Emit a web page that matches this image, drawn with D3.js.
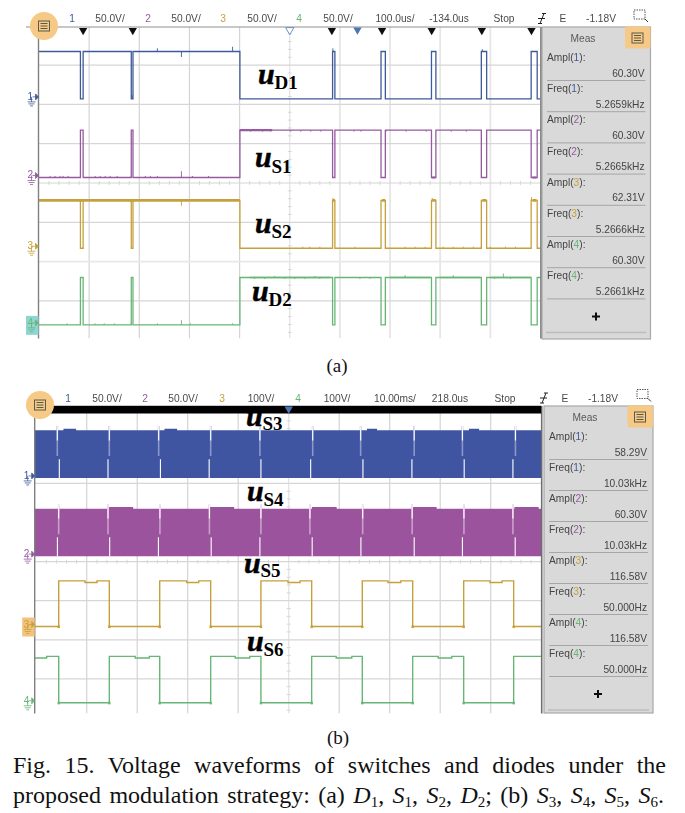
<!DOCTYPE html>
<html><head><meta charset="utf-8">
<script src="https://cdn.jsdelivr.net/npm/d3@7"></script>
<style>html,body{margin:0;padding:0;background:#fff}svg{display:block}</style>
</head><body><svg id="c" width="685" height="813"></svg>
<script>
// ---------- data: panel (a), time in microseconds, level in volts ----------
const edgesA=[82.6,88,184,187.4,400.6,585.4,590,682,690.6,782.6,791.4,882,892.6,981.4,993.4];
const startHighA=[true,false,true,false];
const amplA=[60.3,60.3,61,60.3];
const spikesA1=[[186,5],[236,4],[284,-7],[386,6],[586,4],[884,3]];
const spikesA2=[[82.6,3],[184,2],[22,2],[32,2],[42,2],[48,2],[58,2],[112,2],[122,2],[132,2],[142,2],[156,2],[212,2],[222,2],[236,2],[284,8],[306,2],[338,2],[422,-2],[446,-2],[462,-2],[502,-2],[522,-2],[542,-2],[562,-2],[628,-2],[642,-2],[692,-2],[732,-2],[772,-2],[822,-2],[852,-2]];
const spikesA3=[[284,-7],[586,3],[784,3],[882,3],[982,4],[82.6,-3],[184,-3],[526,2],[540,2],[560,2],[630,2],[730,2],[750,2],[770,2],[806,2],[826,2],[846,2],[866,2],[900,2],[930,2],[950,2]];
const spikesA4=[[82.6,5],[184,3],[284,6],[56,2],[112,2],[130,2],[150,2],[236,2],[302,2],[386,2],[430,-2],[450,-2],[470,2],[490,-2],[510,-2],[530,-2],[550,2],[560,-2],[640,-2],[660,-2],[730,3],[826,3],[926,5],[908,-2],[940,-2]];
const thickA=[[],[[400.6,465,60.3],[784,790,0],[984,992,0]],[[0,400.6,61],[586,590,61],[684,690,61],[784,791,61],[884,892,61],[984,992,61]],[[420,580,60.3],[700,780,60.3],[800,880,60.3],[900,980,60.3]]];
// ---------- data: panel (b), time in milliseconds, level in volts ----------
const band1Env=[[-0.3,61],[5.4,63],[7.9,61],[25.4,63],[27.9,61],[65.5,63],[67.5,61],[85.7,63],[87.7,61],[100,61]];
const band2Env=[[-0.3,60.7],[14.4,62.7],[19.2,60.7],[34.4,62.7],[39.2,60.7],[54.6,62.7],[59.5,60.7],[74.6,62.7],[79.3,60.7],[94.7,62.7],[99.5,60.7],[100,60.7]];
const band1GapsUp=[4.18,14.48,24.25,34.55,44.3,54.75,64.25,74.85,84.4,94.9];
const band1GapsLow=[4.58,14.22,24.6,34.25,44.5,54.35,64.7,74.4,84.75,94.4];
const band2GapsUp=[4.45,14.22,24.5,34.3,44.5,54.2,64.65,74.45,84.7,94.4];
const band2GapsLow=[4.2,14.55,24.2,34.65,44.3,54.65,64.3,74.85,84.4,94.85];
const edgesB=[4.46,14.48,24.46,34.55,44.5,54.55,64.57,74.55,84.65,94.55];
const dipsB3=[[9.66,12.04],[29.8,32.18],[49.86,52.24],[69.66,72.18],[89.86,92.24]];
const dipsB4=[[-0.3,2.08],[19.6,22.4],[39.4,42.3],[59.4,62.5],[79.6,82.3]];
const amplB=[116.58,118.5];
const dipVolts=4;
// ---------- shared channel constants ----------
const chanColors=["#3d5a9a","#965aa0","#c6a03c","#68b676"];
const bandColors=["#3f55a2","#9b539d"];
const bandGapTint=["#8a98cc","#c9a0cb"];
const groundDiv=[1.86,3.86,5.66,7.61];
const voltsA=[50,50,50,50], voltsB=[50,50,100,100];
const headerA=["1","50.0V/","2","50.0V/","3","50.0V/","4","50.0V/","100.0us/","-134.0us","Stop","E","-1.18V"];
const headerB=["1","50.0V/","2","50.0V/","3","100V/","4","100V/","10.00ms/","218.0us","Stop","E","-1.18V"];
const headerColA=[0,null,1,null,2,null,3,null,null,null,null,null,null];
const measLabels=["Ampl","Freq","Ampl","Freq","Ampl","Freq","Ampl","Freq"];
const measChan=[1,1,2,2,3,3,4,4];
const measA=["60.30V","5.2659kHz","60.30V","5.2665kHz","62.31V","5.2666kHz","60.30V","5.2661kHz"];
const measB=["58.29V","10.03kHz","60.30V","10.03kHz","116.58V","50.000Hz","116.58V","50.000Hz"];
const trigA=[88,187,584,684,783,883,982];

const svg=d3.select("#c");
const sans="'Liberation Sans',Arial,sans-serif", serif="'Liberation Serif','Times New Roman',serif";
const soft=svg.append("defs").append("filter").attr("id","soft").attr("x","-5%").attr("y","-5%").attr("width","110%").attr("height","110%");
soft.append("feGaussianBlur").attr("stdDeviation",0.3);

function makeFrame(o){
  const x=d3.scaleLinear().domain(o.xDomain).range([o.x0,o.x1]);
  const yDiv=d3.scaleLinear().domain([0,8]).range([o.top,o.top+8*o.step]);
  const yChan=(i,v)=>yDiv(groundDiv[i]-v/o.volts[i]);
  const g=svg.append("g").attr("filter","url(#soft)");
  const clipId="clip"+o.id;
  svg.select("defs").append("clipPath").attr("id",clipId).append("rect")
    .attr("x",o.left).attr("y",o.plotTop).attr("width",o.x1-o.left).attr("height",o.bottom-o.plotTop);
  const plot=g.append("g").attr("clip-path",`url(#${clipId})`);
  const xt=d3.range(1,10).map(i=>o.xDomain[0]+i*(o.xDomain[1]-o.xDomain[0])/10);
  plot.selectAll(".v").data(xt).join("line").attr("x1",x).attr("x2",x).attr("y1",o.plotTop).attr("y2",o.bottom)
    .attr("stroke",(d,i)=>i==4?"#e2e2e2":(i>=5&&o.id=="a"?"#e6e6e6":"#d4d4d4")).attr("stroke-width",(d,i)=>i>=5&&o.id=="a"?1.8:1.2);
  plot.selectAll(".h").data(d3.range(1,8)).join("line").attr("y1",yDiv).attr("y2",yDiv).attr("x1",o.left).attr("x2",o.x1)
    .attr("stroke",d=>d==6&&o.id=="a"?"#e8e8e8":"#d6d6d6").attr("stroke-width",d=>d==6&&o.id=="a"?1.8:1.2);
  // minor ticks on centre axes
  const mx=d3.range(0,50).map(i=>o.xDomain[0]+i*(o.xDomain[1]-o.xDomain[0])/50).filter((d,i)=>i%5);
  plot.selectAll(".mx").data(mx).join("line").attr("x1",x).attr("x2",x).attr("y1",yDiv(4)-2).attr("y2",yDiv(4)+2).attr("stroke","#d8d8d8");
  const my=d3.range(0,40).map(i=>i/5).filter((d,i)=>i%5);
  plot.selectAll(".my").data(my).join("line").attr("y1",yDiv).attr("y2",yDiv).attr("x1",x(o.xDomain[0]+(o.xDomain[1]-o.xDomain[0])/2)-2).attr("x2",x(o.xDomain[0]+(o.xDomain[1]-o.xDomain[0])/2)+2).attr("stroke","#d8d8d8");
  g.append("line").attr("x1",o.left).attr("x2",o.left).attr("y1",o.plotTop).attr("y2",o.bottom).attr("stroke","#808080").attr("stroke-width",1.4);
  g.append("line").attr("x1",26).attr("x2",o.x1).attr("y1",o.plotTop).attr("y2",o.plotTop).attr("stroke","#909090").attr("stroke-width",1.2);
  g.append("line").attr("x1",o.x1+.5).attr("x2",o.x1+.5).attr("y1",o.plotTop).attr("y2",o.bottom).attr("stroke","#6e6e6e").attr("stroke-width",1.6);
  return {x,yDiv,yChan,g,plot};
}
function groundMark(f,o,i,sel){
  const y=f.yChan(i,0)-2, c=chanColors[i], lx=o.left, g=f.g.append("g");
  if(sel) g.append("rect").attr("x",lx-12.5).attr("y",y-7).attr("width",12.5).attr("height",19).attr("fill",i==3?"#8fd6d2":"#f3c27c");
  g.append("text").attr("x",lx-11).attr("y",y+3).attr("font-family",sans).attr("font-size",10).attr("fill",c).text(i+1);
  g.append("path").attr("d",`M${lx-6} ${y}H${lx-3}M${lx-3} ${y-3}L${lx} ${y}L${lx-3} ${y+3}Z`).attr("stroke",c).attr("fill",c).attr("stroke-width",.8);
  g.append("path").attr("d",`M${lx-7} ${y}V${y+5}M${lx-11} ${y+5}H${lx-3}M${lx-10} ${y+7}H${lx-4}M${lx-8.5} ${y+9}H${lx-5.5}`).attr("stroke",c).attr("fill","none").attr("stroke-width",.8);
}
function header(f,o,items){
  const g=f.g.append("g").attr("font-family",sans).attr("font-size",10.2).attr("text-anchor","middle");
  g.selectAll("text").data(items).join("text").attr("x",(d,i)=>o.hx[i]).attr("y",o.hy)
    .attr("fill",(d,i)=>headerColA[i]!=null?chanColors[headerColA[i]]:"#4a4a4a").text(d=>d);
  // trigger edge glyph
  const ex=o.hEdge,ey=o.hy-3.5;
  g.append("path").attr("d",`M${ex-2} ${ey+5}L${ex+2} ${ey-5}M${ex-4} ${ey}H${ex+3}M${ex-4} ${ey+5}H${ex}M${ex} ${ey-5}H${ex+4}`).attr("stroke","#222").attr("fill","none");
  g.append("rect").attr("x",o.hBox).attr("y",o.hy-12).attr("width",11).attr("height",9).attr("fill","none").attr("stroke","#555").attr("stroke-dasharray","1.5 1");
  g.append("path").attr("d",`M${o.hBox+11} ${o.hy-3}l3 3`).attr("stroke","#333");
  // menu button
  const b=f.g.append("g");
  b.append("circle").attr("cx",o.btn[0]).attr("cy",o.btn[1]).attr("r",14).attr("fill","#f6c987");
  b.append("rect").attr("x",o.btn[0]-5.5).attr("y",o.btn[1]-5).attr("width",11).attr("height",10).attr("fill","none").attr("stroke","#5a5a4a");
  b.append("path").attr("d",`M${o.btn[0]-3.5} ${o.btn[1]-2.5}h7M${o.btn[0]-3.5} ${o.btn[1]}h7M${o.btn[0]-3.5} ${o.btn[1]+2.5}h7`).attr("stroke","#5a5a4a");
}
function measPanel(f,o,values){
  const g=f.g.append("g").attr("font-family",sans).attr("font-size",10.2);
  const m=o.meas;
  g.append("rect").attr("x",m.x).attr("y",m.top).attr("width",m.w).attr("height",m.bottom-m.top).attr("fill","#d9d9d9").attr("stroke","#a8a8a8").attr("stroke-width",1.2);
  g.append("rect").attr("x",m.x+m.w-25.5).attr("y",m.top-.5).attr("width",25.5).attr("height",22).attr("fill","#f6c987").attr("rx",2);
  const tx=m.x+m.w-13,ty=m.top+11;
  g.append("rect").attr("x",tx-5.5).attr("y",ty-5).attr("width",11).attr("height",10).attr("fill","none").attr("stroke","#5a5a4a");
  g.append("path").attr("d",`M${tx-3.5} ${ty-2.5}h7M${tx-3.5} ${ty}h7M${tx-3.5} ${ty+2.5}h7`).attr("stroke","#5a5a4a");
  g.append("text").attr("x",m.x+41).attr("y",m.top+15).attr("text-anchor","middle").attr("fill","#5a5a5a").text("Meas");
  values.forEach((v,i)=>{
    const y=m.first+i*m.dy;
    const t=g.append("text").attr("x",m.x+5).attr("y",y).attr("fill","#444");
    t.append("tspan").text(measLabels[i]+"(");
    t.append("tspan").attr("fill",chanColors[measChan[i]-1]).text(measChan[i]);
    t.append("tspan").text("):");
    g.append("text").attr("x",m.x+m.w-6).attr("y",y+15.5).attr("text-anchor","end").attr("fill","#444").text(v);
    g.append("line").attr("x1",m.x+5).attr("x2",m.x+m.w-5).attr("y1",y+19.5).attr("y2",y+19.5).attr("stroke","#a6a6a6");
  });
  const py=m.first+8*m.dy+6;
  g.append("path").attr("d",`M${m.x+54-4} ${py}h8M${m.x+54} ${py-4}v8`).attr("stroke","#111").attr("stroke-width",2);
  g.append("line").attr("x1",m.x+4).attr("x2",m.x+m.w-4).attr("y1",py+16).attr("y2",py+16).attr("stroke","#bdbdbd").attr("stroke-width",1.5);
}
function waveLabel(px,base,subBase,sub){
  const g=svg.append("g").attr("font-family",serif).attr("font-weight","bold").attr("fill","#000");
  g.append("text").attr("x",px).attr("y",base).attr("font-style","italic").attr("font-size",30).attr("stroke","#000").attr("stroke-width",.5).text("u");
  g.append("text").attr("x",px+16.5).attr("y",subBase).attr("font-size",19).text(sub);
}

// ---------- panel (a) ----------
const oa={id:"a",x0:39,x1:540.5,left:38.5,xDomain:[0,1000],top:25.8,step:39.3,plotTop:27,bottom:338.5,volts:voltsA,
  hy:22,hx:[72,110,148,186,223,262,299,338,395,449,504,563,601],hEdge:542,hBox:634,btn:[44,26],
  meas:{x:542,w:108.5,top:27,bottom:339,first:61,dy:31.2}};
const fa=makeFrame(oa);
const lineGen=(f,i)=>d3.line().x(d=>f.x(d[0])).y(d=>f.yChan(i,d[1]));
function tracePoints(edges,high,ampl,domain){
  const pts=[];let s=high;pts.push([domain[0],s?ampl:0]);
  edges.forEach(e=>{pts.push([e,s?ampl:0]);s=!s;pts.push([e,s?ampl:0]);});
  pts.push([domain[1],s?ampl:0]);return pts;
}
[spikesA1,spikesA2,spikesA3,spikesA4].forEach((sp,i)=>{
  const pts=tracePoints(edgesA,startHighA[i],amplA[i],oa.xDomain);
  fa.plot.append("path").attr("d",lineGen(fa,i)(pts)).attr("fill","none").attr("stroke",chanColors[i]).attr("stroke-width",1.3);
  const levelAt=t=>{let s=startHighA[i];edgesA.forEach(e=>{if(t>e)s=!s});return s?amplA[i]:0};
  fa.plot.selectAll(null).data(sp).join("line").attr("x1",d=>fa.x(d[0])).attr("x2",d=>fa.x(d[0]))
    .attr("y1",d=>fa.yChan(i,levelAt(d[0]))).attr("y2",d=>fa.yChan(i,levelAt(d[0])+d[1]))
    .attr("stroke",chanColors[i]).attr("stroke-width",.9);
  fa.plot.selectAll(null).data(thickA[i]).join("line").attr("x1",d=>fa.x(d[0])).attr("x2",d=>fa.x(d[1]))
    .attr("y1",d=>fa.yChan(i,d[2])).attr("y2",d=>fa.yChan(i,d[2])).attr("stroke",chanColors[i]).attr("stroke-width",i==2?2.8:(i==3?1.6:2.2));
});
// triangles
const tri=d3.symbol().type(d3.symbolTriangle).size(30);
fa.g.selectAll(null).data(trigA).join("path").attr("d",tri).attr("fill","#111")
  .attr("transform",d=>`translate(${fa.x(d)},30.5) rotate(180)`);
fa.g.append("path").attr("d",tri).attr("fill","#fff").attr("stroke","#6f8fc0").attr("transform",`translate(${fa.x(500)},30) rotate(180)`);
fa.g.append("path").attr("d",tri).attr("fill","#4a74b0").attr("transform",`translate(${fa.x(635)},30) rotate(180)`);
[0,1,2,3].forEach(i=>groundMark(fa,oa,i,i==3));
header(fa,oa,headerA);
measPanel(fa,oa,measA);
waveLabel(258,84,89,"D1");waveLabel(255,167,173,"S1");waveLabel(255,233,238,"S2");waveLabel(252,301,306,"D2");

// ---------- panel (b) ----------
const ob={id:"b",x0:36.2,x1:541.2,left:34.7,xDomain:[0,100],top:405.2,step:39.1,plotTop:406,bottom:713.5,volts:voltsB,
  hy:401.5,hx:[68,107,145,183,222,261,298,337,395,450,505,565,603],hEdge:544,hBox:637,btn:[40,405],
  meas:{x:544,w:109,top:406,bottom:713,first:440,dy:31}};
const fb=makeFrame(ob);
fb.g.append("rect").attr("x",ob.left).attr("y",406).attr("width",ob.x1-ob.left).attr("height",7.5).attr("fill","#000");
[[band1Env,band1GapsUp,band1GapsLow,0],[band2Env,band2GapsUp,band2GapsLow,1]].forEach(([env,up,low,i])=>{
  const area=d3.area().curve(d3.curveStepAfter).x(d=>fb.x(d[0])).y1(d=>fb.yChan(i,d[1])).y0(fb.yChan(i,0));
  fb.plot.append("path").attr("d",area(env)).attr("fill",bandColors[i]);
  const top=fb.yChan(i,66),bot=fb.yChan(i,0);
  fb.plot.selectAll(null).data(up).join("line").attr("x1",fb.x).attr("x2",fb.x).attr("y1",top).attr("y2",fb.yChan(i,28)).attr("stroke",bandGapTint[i]).attr("stroke-width",1.6);
  fb.plot.selectAll(null).data(up).join("line").attr("x1",fb.x).attr("x2",fb.x).attr("y1",top).attr("y2",fb.yChan(i,48)).attr("stroke","#fff").attr("stroke-width",1.1);
  fb.plot.selectAll(null).data(low).join("line").attr("x1",fb.x).attr("x2",fb.x).attr("y1",fb.yChan(i,24)).attr("y2",bot).attr("stroke","#fff").attr("stroke-width",1.1);
});
function stepWithDips(edges,high,ampl,dips,domain){
  const ev=[];edges.forEach(e=>ev.push([e,"e"]));dips.forEach(d=>{ev.push([d[0],"a"]);ev.push([d[1],"b"])});
  ev.sort((p,q)=>p[0]-q[0]);
  let s=high,dip=false;const lvl=()=>s?(dip?ampl-dipVolts:ampl):0;const pts=[];
  if(dips.length&&dips[0][0]<=domain[0]) {dip=true;}
  pts.push([domain[0],lvl()]);
  ev.forEach(([t,k])=>{if(t<=domain[0])return;pts.push([t,lvl()]);if(k=="e")s=!s;if(k=="a")dip=true;if(k=="b")dip=false;pts.push([t,lvl()]);});
  pts.push([domain[1],lvl()]);return pts;
}
[[dipsB3,false,2,0],[dipsB4,true,3,1]].forEach(([dips,hi,i,a])=>{
  const pts=stepWithDips(edgesB,hi,amplB[a],dips,[-0.3,100]);
  fb.plot.append("path").attr("d",lineGen(fb,i)(pts)).attr("fill","none").attr("stroke",chanColors[i]).attr("stroke-width",1.4);
  // small corner specks where the trace meets its low level
  fb.plot.selectAll(null).data(edgesB).join("rect").attr("x",d=>fb.x(d)-1.2).attr("y",fb.yChan(i,0)-1).attr("width",2.4).attr("height",2.6).attr("fill",chanColors[i]);
});
[0,1,2,3].forEach(i=>groundMark(fb,ob,i,i==2));
fb.g.append("path").attr("d",tri).attr("fill","#4a74b0").attr("transform",`translate(${fb.x(50)},409) rotate(180)`);
header(fb,ob,headerB);
measPanel(fb,ob,measB);
waveLabel(246,426,430,"S3");waveLabel(247,501,506,"S4");waveLabel(244,573,577,"S5");waveLabel(247,651,656,"S6");

// ---------- captions ----------
const cap=svg.append("g").attr("font-family",serif).attr("fill","#111");
cap.append("text").attr("x",337).attr("y",372).attr("text-anchor","middle").attr("font-size",19).text("(a)");
cap.append("text").attr("x",338).attr("y",744).attr("text-anchor","middle").attr("font-size",19).text("(b)");
const line1=cap.append("text").attr("x",13).attr("y",773).attr("font-size",24).text("Fig. 15. Voltage waveforms of switches and diodes under the");
const line2=cap.append("text").attr("x",13).attr("y",803).attr("font-size",24);
const rich=[["proposed modulation strategy: (a) ",0],["D",1],["1",2],[", ",0],["S",1],["1",2],[", ",0],["S",1],["2",2],[", ",0],["D",1],["2",2],["; (b) ",0],["S",1],["3",2],[", ",0],["S",1],["4",2],[", ",0],["S",1],["5",2],[", ",0],["S",1],["6",2],[".",0]];
let down=0;
rich.forEach(([t,k])=>{
  const s=line2.append("tspan").text(t);
  if(k==1)s.attr("font-style","italic");
  if(k==2){s.attr("font-size",15).attr("dy",4);down=1}
  else if(down){s.attr("dy",-4);down=0}
});
function justify(el,target){
  const n=(el.text().match(/ /g)||[]).length;
  const w=el.node().getComputedTextLength();
  el.attr("word-spacing",(target-w)/n);
}
justify(line1,653);justify(line2,651);
</script></body></html>
